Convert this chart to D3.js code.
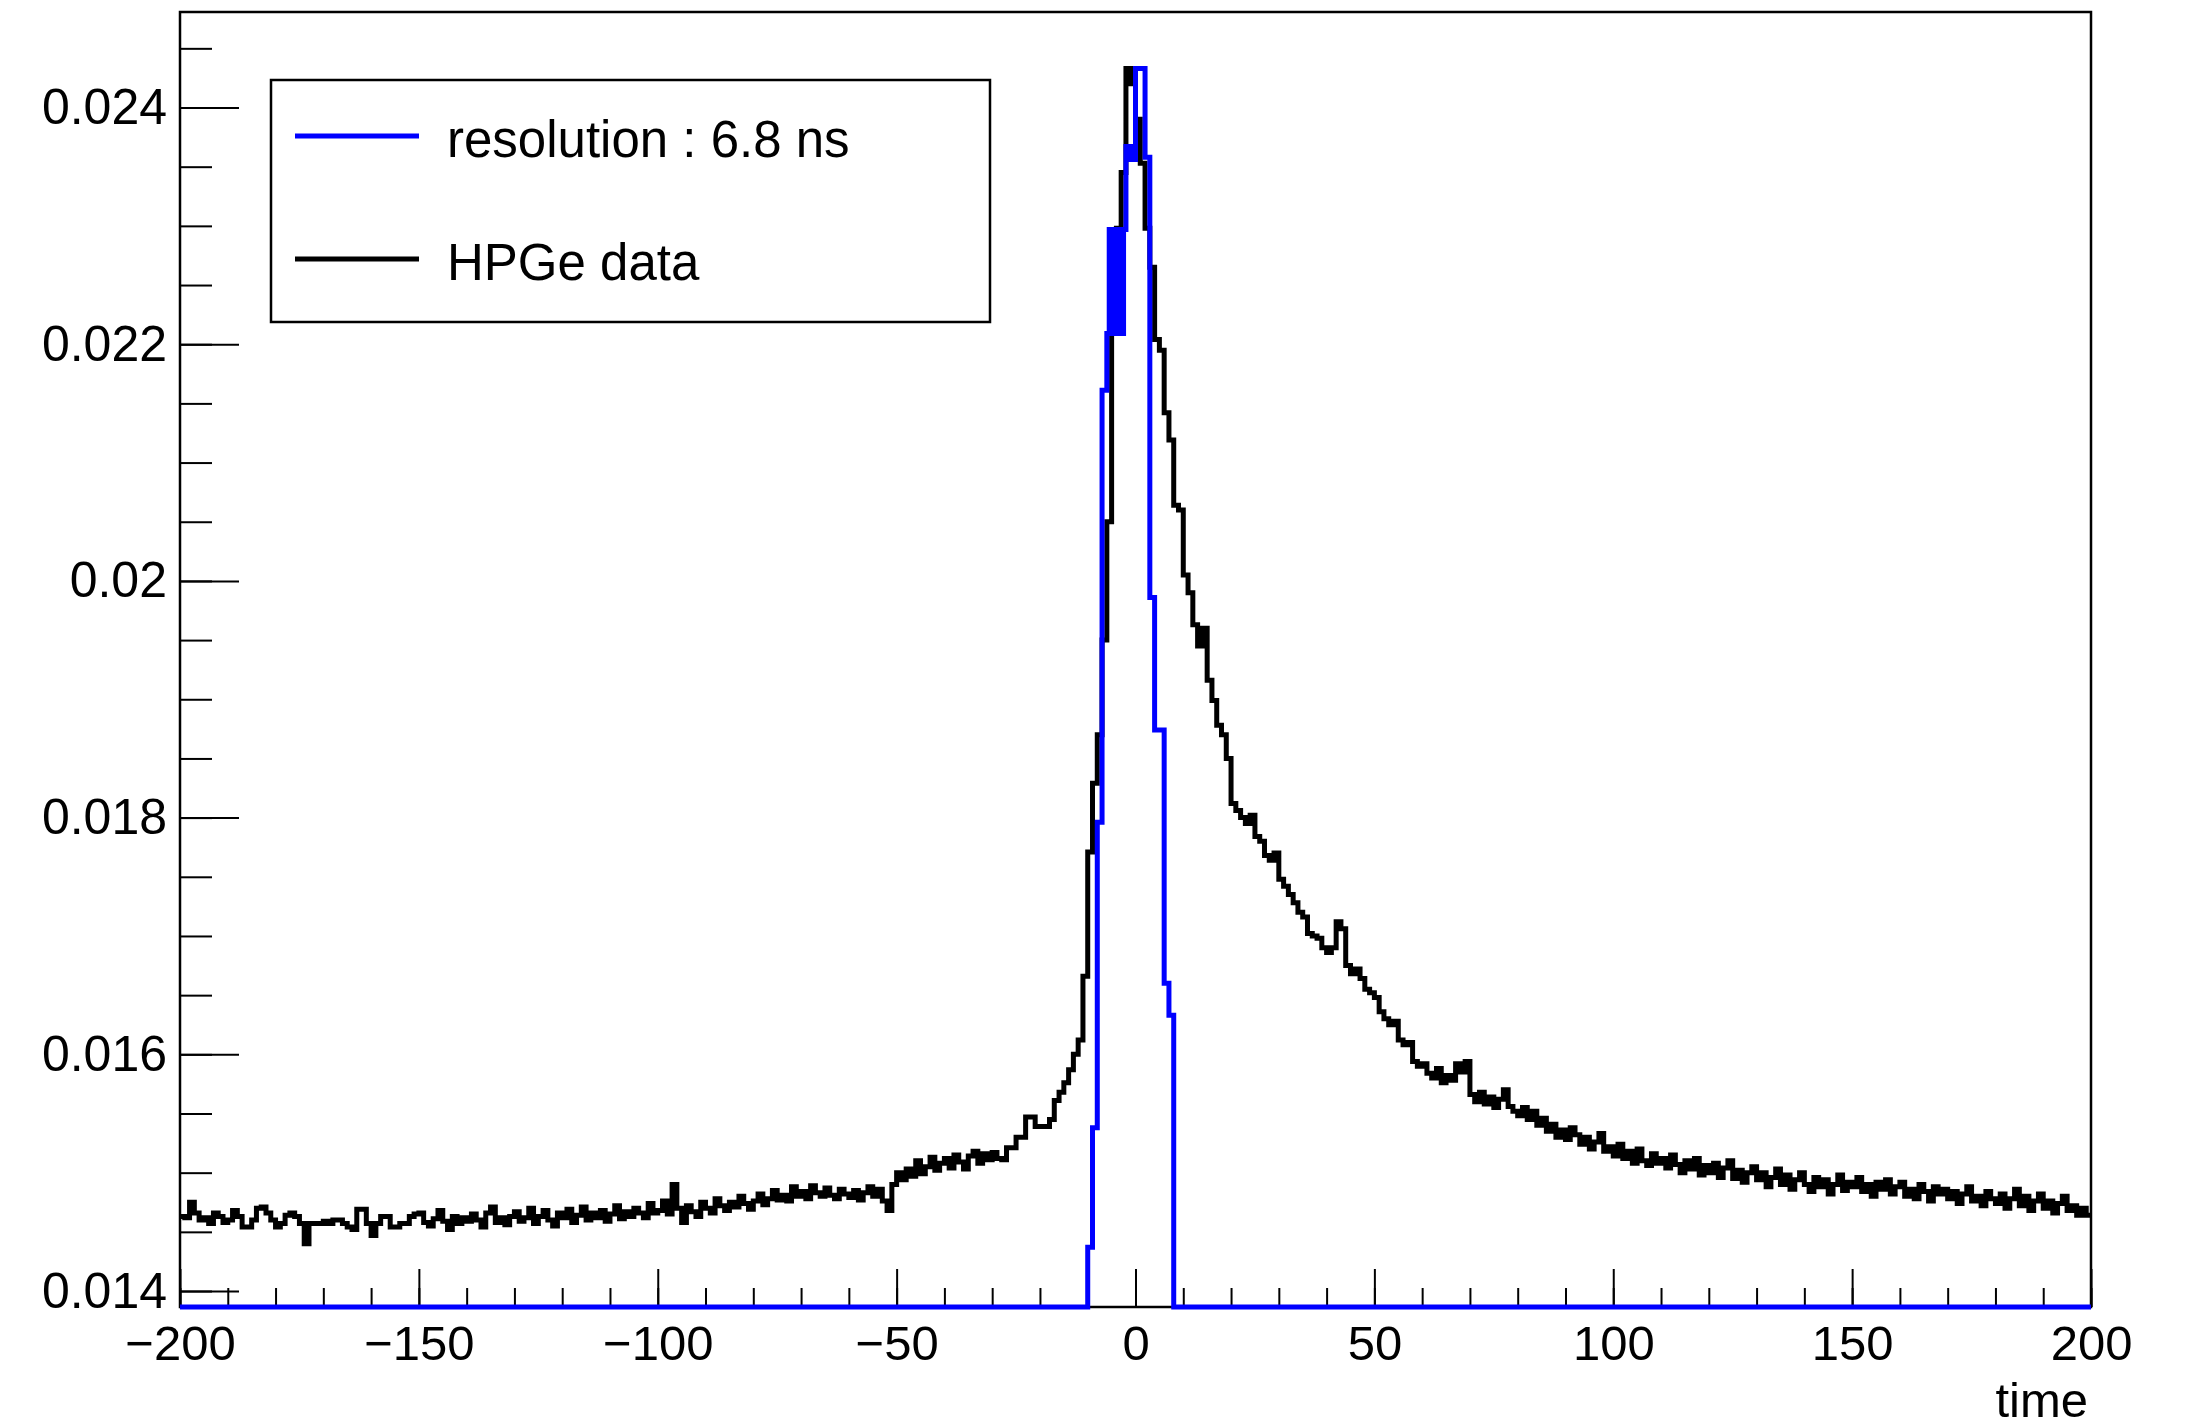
<!DOCTYPE html>
<html>
<head>
<meta charset="utf-8">
<script src="https://cdn.jsdelivr.net/npm/d3@7"></script>
<style>
    body { margin: 0; background: #fff; }
    svg text { font-family: "Liberation Sans", Arial, Helvetica, sans-serif; fill: #000; }
</style>
</head>
<body>
<div id="chart-area"></div>
<script>
// hpge timing spectrum with the resolution histogram on top
// bins are 1 ns wide, starting at -200

let hpgeStart = -200;
let hpgeValues = [
    0.01463,0.01462,0.01475,0.01466,0.01460,0.01462,0.01457,0.01466,0.01463,0.01458, // -200
    0.01460,0.01468,0.01463,0.01454,0.01454,0.01460,0.01470,0.01471,0.01466,0.01460, // -190
    0.01454,0.01457,0.01464,0.01466,0.01463,0.01457,0.01440,0.01457,0.01457,0.01457, // -180
    0.01459,0.01457,0.01460,0.01460,0.01457,0.01454,0.01452,0.01469,0.01469,0.01457, // -170
    0.01447,0.01457,0.01463,0.01463,0.01454,0.01454,0.01457,0.01457,0.01463,0.01465, // -160
    0.01466,0.01458,0.01455,0.01461,0.01468,0.01459,0.01452,0.01463,0.01457,0.01462, // -150
    0.01459,0.01465,0.01460,0.01454,0.01466,0.01471,0.01458,0.01462,0.01456,0.01463, // -140
    0.01467,0.01459,0.01462,0.01470,0.01457,0.01463,0.01468,0.01460,0.01455,0.01466, // -130
    0.01462,0.01469,0.01458,0.01464,0.01471,0.01460,0.01466,0.01462,0.01468,0.01459, // -120
    0.01465,0.01472,0.01461,0.01467,0.01463,0.01470,0.01466,0.01462,0.01474,0.01466, // -110
    0.01468,0.01476,0.01465,0.01490,0.01470,0.01458,0.01472,0.01467,0.01463,0.01475, // -100
    0.01470,0.01466,0.01478,0.01472,0.01468,0.01475,0.01471,0.01480,0.01474,0.01469, // -90
    0.01476,0.01482,0.01473,0.01478,0.01485,0.01477,0.01481,0.01476,0.01488,0.01480, // -80
    0.01484,0.01478,0.01489,0.01483,0.01480,0.01487,0.01481,0.01478,0.01486,0.01482, // -70
    0.01479,0.01485,0.01477,0.01483,0.01488,0.01480,0.01486,0.01476,0.01468,0.01490, // -60
    0.01500,0.01494,0.01503,0.01497,0.01510,0.01499,0.01505,0.01513,0.01502,0.01508, // -50
    0.01512,0.01504,0.01515,0.01509,0.01503,0.01514,0.01518,0.01508,0.01516,0.01511, // -40
    0.01517,0.01512,0.01511,0.01521,0.01521,0.01530,0.01530,0.01547,0.01547,0.01539, // -30
    0.01539,0.01539,0.01545,0.01561,0.01568,0.01576,0.01587,0.01600,0.01612,0.01666, // -20
    0.01771,0.01829,0.01870,0.01950,0.02050,0.02210,0.02298,0.02345,0.02433,0.02420, // -10
    0.02390,0.02353,0.02298,0.02265,0.02204,0.02195,0.02142,0.02119,0.02064,0.02060, // 0
    0.02005,0.01990,0.01963,0.01945,0.01960,0.01916,0.01899,0.01878,0.01870,0.01850, // 10
    0.01812,0.01806,0.01800,0.01795,0.01802,0.01784,0.01780,0.01768,0.01764,0.01770, // 20
    0.01748,0.01742,0.01735,0.01728,0.01720,0.01716,0.01702,0.01700,0.01698,0.01690, // 30
    0.01686,0.01690,0.01712,0.01706,0.01675,0.01668,0.01672,0.01664,0.01655,0.01652, // 40
    0.01648,0.01636,0.01630,0.01625,0.01628,0.01612,0.01608,0.01610,0.01594,0.01590, // 50
    0.01592,0.01584,0.01580,0.01588,0.01576,0.01582,0.01578,0.01592,0.01585,0.01594, // 60
    0.01566,0.01560,0.01568,0.01558,0.01564,0.01555,0.01562,0.01570,0.01556,0.01552, // 70
    0.01548,0.01555,0.01545,0.01552,0.01540,0.01546,0.01535,0.01541,0.01530,0.01536, // 80
    0.01528,0.01538,0.01532,0.01524,0.01530,0.01520,0.01526,0.01533,0.01518,0.01522, // 90
    0.01514,0.01524,0.01512,0.01518,0.01508,0.01520,0.01510,0.01506,0.01516,0.01508, // 100
    0.01512,0.01504,0.01515,0.01507,0.01500,0.01510,0.01503,0.01512,0.01498,0.01506, // 110
    0.01500,0.01508,0.01496,0.01504,0.01510,0.01495,0.01502,0.01492,0.01500,0.01505, // 120
    0.01494,0.01500,0.01488,0.01496,0.01503,0.01490,0.01498,0.01486,0.01494,0.01500, // 130
    0.01490,0.01484,0.01496,0.01488,0.01494,0.01482,0.01490,0.01498,0.01485,0.01492, // 140
    0.01488,0.01496,0.01484,0.01490,0.01480,0.01492,0.01486,0.01494,0.01482,0.01488, // 150
    0.01492,0.01480,0.01486,0.01478,0.01490,0.01484,0.01476,0.01488,0.01482,0.01486, // 160
    0.01478,0.01484,0.01474,0.01482,0.01488,0.01476,0.01480,0.01472,0.01484,0.01478, // 170
    0.01474,0.01482,0.01470,0.01478,0.01486,0.01472,0.01480,0.01468,0.01476,0.01482, // 180
    0.01470,0.01476,0.01466,0.01474,0.01480,0.01468,0.01472,0.01464,0.01470,0.01464  // 190
];

// resolution histogram, variable bins (edges has one more entry than values)
let resEdges = [-200, -10, -9, -8, -7, -6, -5.5, -5, -4.5, -4, -3.5, -3, -2.5,
    -2, -1.5, -1, -0.5, 0, 2, 3, 4, 6, 7, 8, 200];
let resValues = [0, 0.01437, 0.01538, 0.01796, 0.02161,
    0.02209, 0.02297, 0.02209, 0.02297, 0.02209, 0.02297, 0.02209, 0.02297,
    0.02367, 0.02356, 0.02367, 0.02356,
    0.02433, 0.02358, 0.01986, 0.01874, 0.01660, 0.01633, 0];

let xTicks = [-200, -150, -100, -50, 0, 50, 100, 150, 200];
let xTickLabels = ["\u2212200", "\u2212150", "\u2212100", "\u221250", "0", "50", "100", "150", "200"];
let yTicks = [0.014, 0.016, 0.018, 0.02, 0.022, 0.024];
let yTickLabels = ["0.014", "0.016", "0.018", "0.02", "0.022", "0.024"];

let legendLabels = ["resolution : 6.8 ns", "HPGe data"];
let legendColors = ["#0000ff", "#000000"];

let margin = {top: 12, right: 101, bottom: 120, left: 180};

let width = 2192 - margin.left - margin.right,
    height = 1427 - margin.top - margin.bottom;

let svg = d3.select("#chart-area").append("svg")
    .attr("width", width + margin.left + margin.right)
    .attr("height", height + margin.top + margin.bottom)
    .append("g")
    .attr("transform", "translate(" + margin.left + "," + margin.top + ")");

// Scales
let x = d3.scaleLinear()
    .domain([-200, 200])
    .range([0, width]);

let y = d3.scaleLinear()
    .domain([0.013865, 0.024807])
    .range([height, 0])
    .clamp(true);

// step outline like root's "hist" option
let stepLine = d3.line()
    .x(d => x(d[0]))
    .y(d => y(d[1]))
    .curve(d3.curveStepAfter);

function histPoints(edges, values) {
    let pts = values.map((v, i) => [edges[i], v]);
    pts.push([edges[edges.length - 1], values[values.length - 1]]);
    return pts;
}

let hpgeEdges = d3.range(hpgeValues.length + 1).map(i => hpgeStart + i);

svg.append("path")
    .datum(histPoints(hpgeEdges, hpgeValues))
    .attr("fill", "none")
    .attr("stroke", legendColors[1])
    .attr("stroke-width", 5)
    .attr("d", stepLine);

// Axes, ticks point into the frame
let xMinor = d3.range(-200, 201, 10);
let yMinor = d3.range(0, 22).map(i => 0.014 + i * 0.0005);

svg.append("g")
    .attr("class", "x-minor")
    .attr("transform", "translate(0," + height + ")")
    .call(d3.axisBottom(x).tickValues(xMinor).tickSize(-19).tickFormat(""));

svg.append("g")
    .attr("class", "x-axis")
    .attr("transform", "translate(0," + height + ")")
    .call(d3.axisBottom(x).tickValues(xTicks).tickSize(-38).tickPadding(18)
        .tickFormat((d, i) => xTickLabels[i]));

svg.append("g")
    .attr("class", "y-minor")
    .call(d3.axisLeft(y).tickValues(yMinor).tickSize(-32).tickFormat(""));

svg.append("g")
    .attr("class", "y-axis")
    .call(d3.axisLeft(y).tickValues(yTicks).tickSize(-59).tickPadding(13)
        .tickFormat((d, i) => yTickLabels[i]));

svg.selectAll(".domain").remove();
svg.selectAll(".tick line").attr("stroke", "#000").attr("stroke-width", 2);
svg.selectAll(".x-axis text").style("font-size", "49px").attr("fill", "#000");
svg.selectAll(".y-axis text").style("font-size", "50px").attr("fill", "#000");

// frame
svg.append("rect")
    .attr("width", width)
    .attr("height", height)
    .attr("fill", "none")
    .attr("stroke", "#000")
    .attr("stroke-width", 2.5);

// blue goes last so it sits on the bottom frame edge like root does
svg.append("path")
    .datum(histPoints(resEdges, resValues))
    .attr("fill", "none")
    .attr("stroke", legendColors[0])
    .attr("stroke-width", 5)
    .attr("d", stepLine);

svg.append("text")
    .attr("x", width - 3)
    .attr("y", 1417 - margin.top)
    .attr("text-anchor", "end")
    .style("font-size", "49px")
    .text("time");

// legend
let legend = svg.append("g")
    .attr("transform", "translate(" + (271 - margin.left) + "," + (80 - margin.top) + ")");

legend.append("rect")
    .attr("width", 719)
    .attr("height", 242)
    .attr("fill", "#fff")
    .attr("stroke", "#000")
    .attr("stroke-width", 2.5);

legendLabels.forEach(function (label, i) {
    let rowY = 56 + i * 123;
    legend.append("line")
        .attr("x1", 24)
        .attr("x2", 148)
        .attr("y1", rowY)
        .attr("y2", rowY)
        .attr("stroke", legendColors[i])
        .attr("stroke-width", 5);

    legend.append("text")
        .attr("x", 176)
        .attr("y", rowY + 21)
        .style("font-size", "51px")
        .text(label);
});
</script>
</body>
</html>
